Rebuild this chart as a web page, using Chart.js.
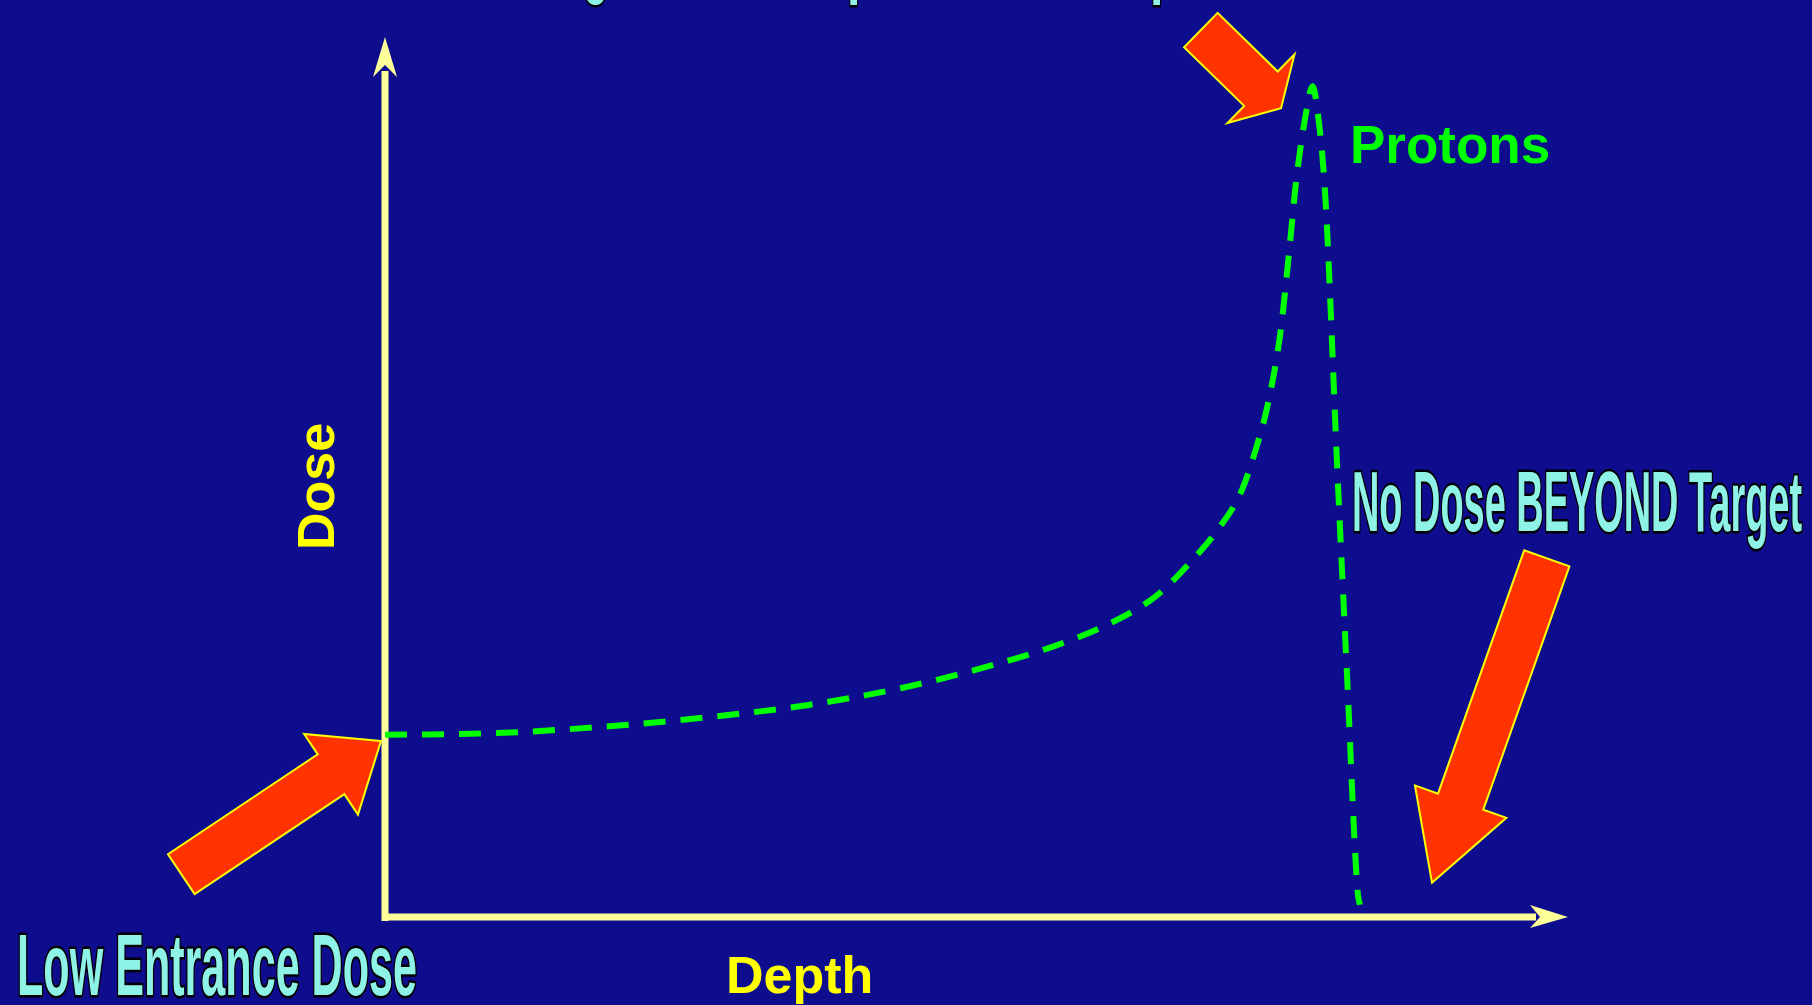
<!DOCTYPE html>
<html>
<head>
<meta charset="utf-8">
<title>Protons – depth dose</title>
<script src="https://cdn.jsdelivr.net/npm/chart.js@4.4.1/dist/chart.umd.min.js"></script>
<style>
  html, body { margin: 0; padding: 0; background: #0d0d8e; overflow: hidden; }
  #wrap { width: 1812px; height: 1005px; }
</style>
</head>
<body>
<div id="wrap"><canvas id="braggChart" width="1812" height="1005"></canvas></div>
<script>
// ─── Data: proton depth-dose curve (depth and dose in % of axis length) ───
const depth = [0, 9.5, 19.2, 28.0, 35.8, 43.6, 50.5, 56.4, 61.2, 65.2, 68.0, 70.5, 72.4, 73.8, 74.6, 75.7, 76.4, 77.0, 77.9, 78.4, 78.8, 79.5, 80.5, 81.3, 82.2, 82.4];
const dose  = [20.7, 20.9, 21.7, 22.8, 24.1, 26.0, 28.3, 30.7, 33.3, 36.5, 40.2, 44.2, 48.4, 54.0, 58.1, 66.5, 75.2, 83.4, 91.7, 94.4, 91.9, 81.5, 50.8, 28.1, 3.1, 1.4];

const axisRange = [0, 100];
const seriesLabel = 'Protons';
const xTitle = 'Depth';
const yTitle = 'Dose';
const titleText = 'High Dose Deposited at Depth';
const leftNote = 'Low Entrance Dose';
const rightNote = 'No Dose BEYOND Target';

const BG = '#0d0d8e';
const AXIS = '#ffff99';
const GREEN = '#00ff00';
const ORANGE = '#ff3300';
const CYAN = '#8ef3e6';
const FONT = '"Liberation Sans", Arial, sans-serif';

// block arrows: tip given in data units, rest in pixels
const arrows = [
  { at: [-0.34, 20.0], angle: -33.7, len: 240, shaft: 48, head: 97, headLen: 60 },
  { at: [75.74, 91.9], angle: 44.3, len: 112, shaft: 48, head: 96, headLen: 28 },
  { at: [88.5, 3.9],   angle: 109.5, len: 344, shaft: 48, head: 97, headLen: 86 }
];

function drawBlockArrow(ctx, tx, ty, a) {
  const r = a.angle * Math.PI / 180;
  const pts = [[0, 0], [-a.headLen, -a.head / 2], [-a.headLen, -a.shaft / 2], [-a.len, -a.shaft / 2],
               [-a.len, a.shaft / 2], [-a.headLen, a.shaft / 2], [-a.headLen, a.head / 2]];
  ctx.save();
  ctx.translate(tx, ty);
  ctx.rotate(r);
  ctx.beginPath();
  pts.forEach((p, i) => i ? ctx.lineTo(p[0], p[1]) : ctx.moveTo(p[0], p[1]));
  ctx.closePath();
  ctx.fillStyle = ORANGE;
  ctx.fill();
  ctx.lineWidth = 2;
  ctx.lineJoin = 'miter';
  ctx.strokeStyle = '#ffff00';
  ctx.stroke();
  ctx.restore();
}

// condensed outlined lettering (squeezed horizontally)
function outlined(ctx, str, x, baseline, size, sx) {
  ctx.save();
  ctx.font = `bold ${size}px ${FONT}`;
  ctx.translate(x, baseline);
  ctx.scale(sx, 1);
  ctx.lineJoin = 'round';
  ctx.lineWidth = 5;
  ctx.strokeStyle = '#000';
  ctx.strokeText(str, 0, 0);
  ctx.fillStyle = CYAN;
  ctx.fillText(str, 0, 0);
  ctx.restore();
}

function outlinedFit(ctx, str, left, right, baseline, size) {
  ctx.font = `bold ${size}px ${FONT}`;
  const w = ctx.measureText(str).width;
  outlined(ctx, str, left, baseline, size, (right - left) / w);
}

const backdrop = {
  id: 'backdrop',
  beforeDraw(chart) {
    const { ctx, width, height } = chart;
    ctx.save();
    ctx.fillStyle = BG;
    ctx.fillRect(0, 0, width, height);
    ctx.restore();
  }
};

// axis lines with arrow heads, drawn from the scales
const axesArrows = {
  id: 'axesArrows',
  beforeDatasetsDraw(chart) {
    const { ctx, scales: { x, y } } = chart;
    const x0 = x.getPixelForValue(axisRange[0]), x1 = x.getPixelForValue(axisRange[1]);
    const y0 = y.getPixelForValue(axisRange[0]), y1 = y.getPixelForValue(axisRange[1]);
    ctx.save();
    ctx.strokeStyle = AXIS;
    ctx.fillStyle = AXIS;
    ctx.lineWidth = 7;
    ctx.beginPath();
    ctx.moveTo(x0, y0 + 4);
    ctx.lineTo(x0, y1 + 34);
    ctx.moveTo(x0, y0);
    ctx.lineTo(x1 - 32, y0);
    ctx.stroke();
    // up arrow
    ctx.beginPath();
    ctx.moveTo(x0, y1);
    ctx.lineTo(x0 + 12, y1 + 40);
    ctx.lineTo(x0, y1 + 28);
    ctx.lineTo(x0 - 12, y1 + 40);
    ctx.closePath();
    ctx.fill();
    // right arrow
    ctx.beginPath();
    ctx.moveTo(x1, y0);
    ctx.lineTo(x1 - 38, y0 - 12);
    ctx.lineTo(x1 - 28, y0);
    ctx.lineTo(x1 - 38, y0 + 11);
    ctx.closePath();
    ctx.fill();
    ctx.restore();
  }
};

const notes = {
  id: 'notes',
  afterDatasetsDraw(chart) {
    const { ctx, scales: { x, y } } = chart;
    arrows.forEach(a => drawBlockArrow(ctx, x.getPixelForValue(a.at[0]), y.getPixelForValue(a.at[1]), a));

    ctx.save();
    ctx.textAlign = 'left';
    ctx.textBaseline = 'alphabetic';
    ctx.fillStyle = GREEN;
    ctx.font = `bold 53px ${FONT}`;
    ctx.fillText(seriesLabel, 1350, 163);

    ctx.fillStyle = '#ffff00';
    ctx.font = `bold 52px ${FONT}`;
    ctx.fillText(xTitle, 726, 993);

    ctx.translate(334, 550);
    ctx.rotate(-Math.PI / 2);
    ctx.font = `bold 52px ${FONT}`;
    ctx.fillText(yTitle, 0, 0);
    ctx.restore();

    outlinedFit(ctx, leftNote, 17, 417, 995, 87);
    outlinedFit(ctx, rightNote, 1352, 1802, 531, 85);

    // title sits mostly above the picture, only descenders show
    ctx.font = `bold 109px ${FONT}`;
    const sx = 0.443;
    const gMid = ctx.measureText('Hi').width + ctx.measureText('g').width / 2;
    outlined(ctx, titleText, 596 - sx * gMid, -18, 109, sx);
  }
};

new Chart(document.getElementById('braggChart'), {
  type: 'line',
  data: {
    datasets: [{
      label: seriesLabel,
      data: depth.map((d, i) => ({ x: d, y: dose[i] })),
      borderColor: GREEN,
      borderWidth: 6,
      borderDash: [22, 15],
      pointRadius: 0,
      fill: false,
      cubicInterpolationMode: 'monotone'
    }]
  },
  options: {
    responsive: false,
    animation: false,
    devicePixelRatio: 1,
    layout: { padding: { left: 385, top: 37, right: 244, bottom: 88 } },
    plugins: { legend: { display: false }, tooltip: { enabled: false } },
    scales: {
      x: { type: 'linear', min: axisRange[0], max: axisRange[1], display: false },
      y: { type: 'linear', min: axisRange[0], max: axisRange[1], display: false }
    }
  },
  plugins: [backdrop, axesArrows, notes]
});
</script>
</body>
</html>
